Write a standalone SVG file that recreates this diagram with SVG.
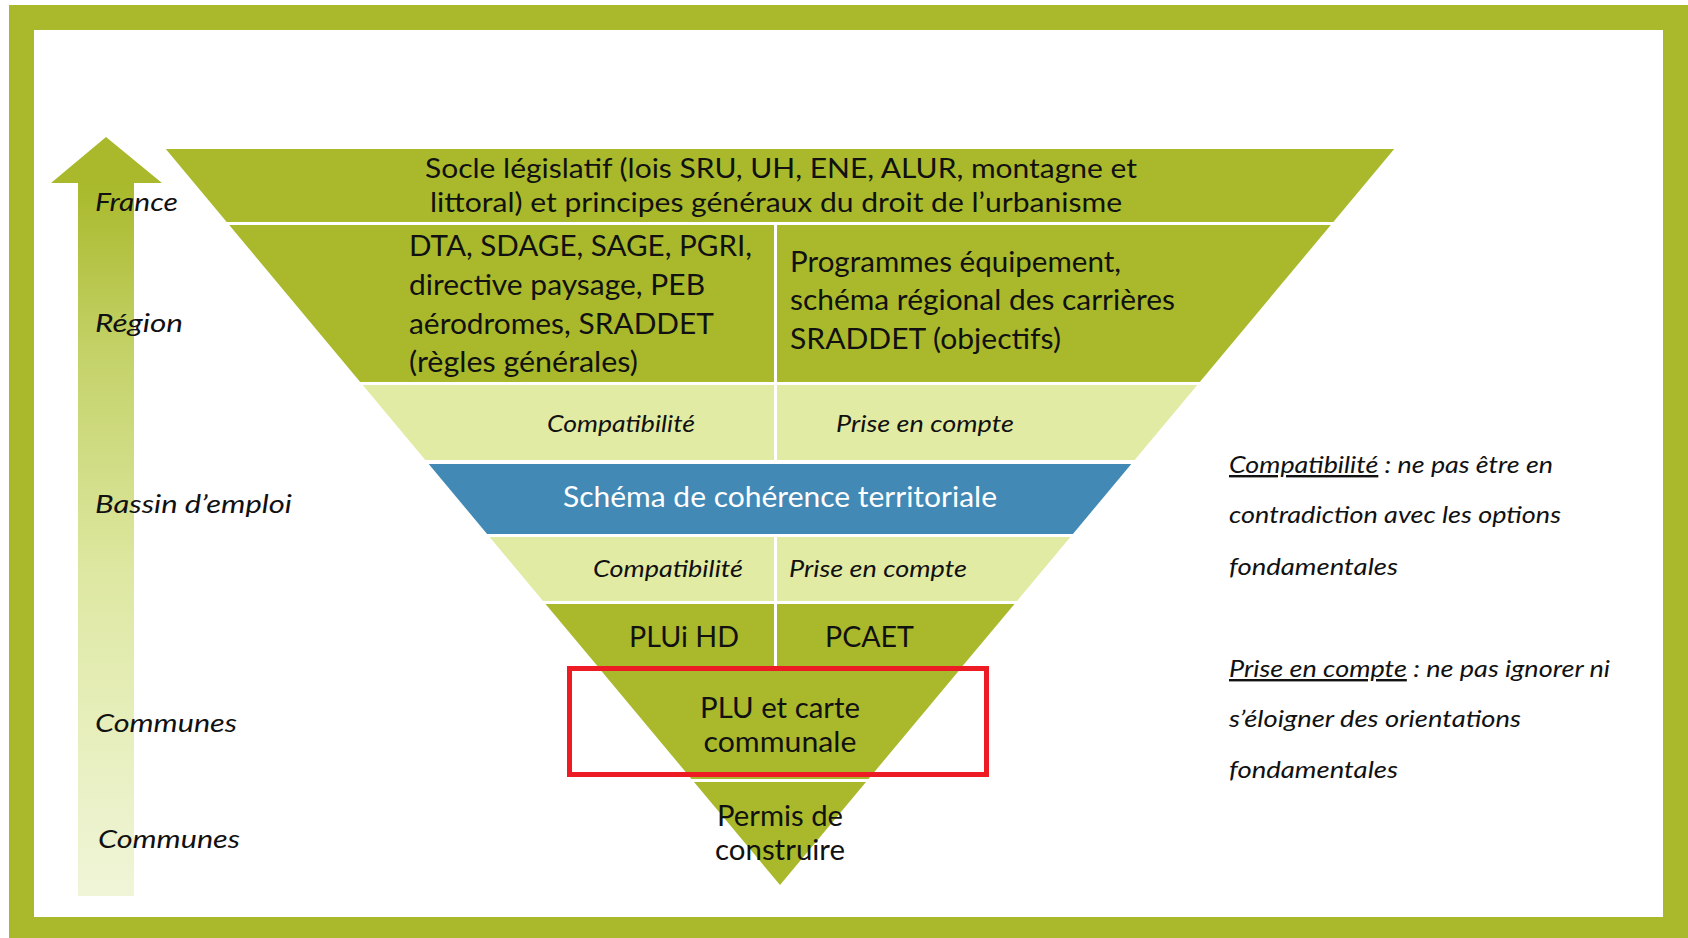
<svg xmlns="http://www.w3.org/2000/svg" width="1688" height="938" viewBox="0 0 1688 938">
<defs>
<style>
.t{font-family:Lato,"Open Sans","Liberation Sans",sans-serif;fill:#111}
.i{font-style:italic}
.g{fill:#A9B92B}
.l{fill:#E2EBA3}
.b{fill:#4289B5}
.s26{font-size:26px}
.s28{font-size:28px}
.s24{font-size:24px}
.w{fill:#FFFFFF}
</style>
<linearGradient id="arrowGrad" gradientUnits="userSpaceOnUse" x1="0" y1="183" x2="0" y2="896">
<stop offset="0" stop-color="#A9B92B"/>
<stop offset="0.25" stop-color="#C5D36B"/>
<stop offset="0.55" stop-color="#DEE8A2"/>
<stop offset="1" stop-color="#F0F5D8"/>
</linearGradient>
</defs>

<g id="frame">
<rect x="9" y="5" width="1679" height="933" fill="#A9B92B"/>
<rect x="34" y="30" width="1629" height="887" fill="#FFFFFF"/>
</g>

<g id="connectors">
<path d="M106,137 L162,183 L134,183 L134,896 L78,896 L78,183 L51,183 Z" fill="url(#arrowGrad)"/>
</g>

<g id="level-labels" class="t i s26">
<text x="95" y="211" textLength="83" lengthAdjust="spacingAndGlyphs">France</text>
<text x="95" y="332" textLength="88" lengthAdjust="spacingAndGlyphs">Région</text>
<text x="95" y="513" textLength="197" lengthAdjust="spacingAndGlyphs">Bassin d’emploi</text>
<text x="95" y="732" textLength="142" lengthAdjust="spacingAndGlyphs">Communes</text>
<text x="98" y="848" textLength="142" lengthAdjust="spacingAndGlyphs">Communes</text>
</g>

<g id="band-socle">
<polygon class="g" points="165.8,149 1394.2,149 1333.3,222 226.7,222"/>
<text class="t s26" x="781" y="178" text-anchor="middle" textLength="712" lengthAdjust="spacingAndGlyphs">Socle législatif (lois SRU, UH, ENE, ALUR, montagne et</text>
<text class="t s26" x="776" y="212" text-anchor="middle" textLength="692" lengthAdjust="spacingAndGlyphs">littoral) et principes généraux du droit de l’urbanisme</text>
</g>

<g id="band-region-left">
<polygon class="g" points="229.2,225 774,225 774,382 360.2,382"/>
<text class="t s28" x="409" y="256" textLength="343" lengthAdjust="spacingAndGlyphs">DTA, SDAGE, SAGE, PGRI,</text>
<text class="t s28" x="409" y="295" textLength="296" lengthAdjust="spacingAndGlyphs">directive paysage, PEB</text>
<text class="t s28" x="409" y="334" textLength="305" lengthAdjust="spacingAndGlyphs">aérodromes, SRADDET</text>
<text class="t s28" x="409" y="372" textLength="229" lengthAdjust="spacingAndGlyphs">(règles générales)</text>
</g>

<g id="band-region-right">
<polygon class="g" points="777,225 1330.8,225 1199.8,382 777,382"/>
<text class="t s28" x="790" y="272" textLength="331" lengthAdjust="spacingAndGlyphs">Programmes équipement,</text>
<text class="t s28" x="790" y="310" textLength="385" lengthAdjust="spacingAndGlyphs">schéma régional des carrières</text>
<text class="t s28" x="790" y="349" textLength="271" lengthAdjust="spacingAndGlyphs">SRADDET (objectifs)</text>
</g>

<g id="band-compat-1">
<polygon class="l" points="362.7,385 774,385 774,460 425.3,460"/>
<polygon class="l" points="777,385 1197.3,385 1134.7,460 777,460"/>
<text class="t i s24" x="621" y="432" text-anchor="middle" textLength="148" lengthAdjust="spacingAndGlyphs">Compatibilité</text>
<text class="t i s24" x="925" y="432" text-anchor="middle" textLength="178" lengthAdjust="spacingAndGlyphs">Prise en compte</text>
</g>

<g id="band-scot">
<polygon class="b" points="428.7,464 1131.3,464 1072.9,534 487.1,534"/>
<text class="t w s28" x="780" y="507" text-anchor="middle" textLength="434" lengthAdjust="spacingAndGlyphs">Schéma de cohérence territoriale</text>
</g>

<g id="band-compat-2">
<polygon class="l" points="489.6,537 774,537 774,601 543,601"/>
<polygon class="l" points="777,537 1070.4,537 1017,601 777,601"/>
<text class="t i s24" x="668" y="577" text-anchor="middle" textLength="150" lengthAdjust="spacingAndGlyphs">Compatibilité</text>
<text class="t i s24" x="789" y="577" textLength="178" lengthAdjust="spacingAndGlyphs">Prise en compte</text>
</g>

<g id="band-plui">
<polygon class="g" points="545.5,604 774,604 774,668 599.1,668"/>
<polygon class="g" points="777,604 1014.5,604 960.9,668 777,668"/>
<text class="t s28" x="629" y="647" textLength="110" lengthAdjust="spacingAndGlyphs">PLUi HD</text>
<text class="t s28" x="825" y="647" textLength="89" lengthAdjust="spacingAndGlyphs">PCAET</text>
</g>

<g id="band-plu">
<polygon class="g" points="601.4,671 958.6,671 868.5,779 691.5,779"/>
<text class="t s28" x="780" y="718" text-anchor="middle" textLength="160" lengthAdjust="spacingAndGlyphs">PLU et carte</text>
<text class="t s28" x="780" y="752" text-anchor="middle" textLength="153" lengthAdjust="spacingAndGlyphs">communale</text>
</g>

<g id="highlight">
<rect x="569.5" y="668.5" width="417" height="106" fill="none" stroke="#ED1C24" stroke-width="5"/>
</g>

<g id="band-permis">
<polygon class="g" points="694,782 866,782 780,885"/>
<text class="t s28" x="780" y="826" text-anchor="middle" textLength="126" lengthAdjust="spacingAndGlyphs">Permis de</text>
<text class="t s28" x="780" y="860" text-anchor="middle" textLength="130" lengthAdjust="spacingAndGlyphs">construire</text>
</g>

<g id="legend" class="t i s24">
<text x="1229" y="473" textLength="324" lengthAdjust="spacingAndGlyphs"><tspan text-decoration="underline">Compatibilité</tspan> : ne pas être en</text>
<text x="1229" y="523" textLength="332" lengthAdjust="spacingAndGlyphs">contradiction avec les options</text>
<text x="1229" y="575" textLength="169" lengthAdjust="spacingAndGlyphs">fondamentales</text>
<text x="1229" y="677" textLength="381" lengthAdjust="spacingAndGlyphs"><tspan text-decoration="underline">Prise en compte</tspan> : ne pas ignorer ni</text>
<text x="1229" y="727" textLength="292" lengthAdjust="spacingAndGlyphs">s’éloigner des orientations</text>
<text x="1229" y="778" textLength="169" lengthAdjust="spacingAndGlyphs">fondamentales</text>
</g>
</svg>
